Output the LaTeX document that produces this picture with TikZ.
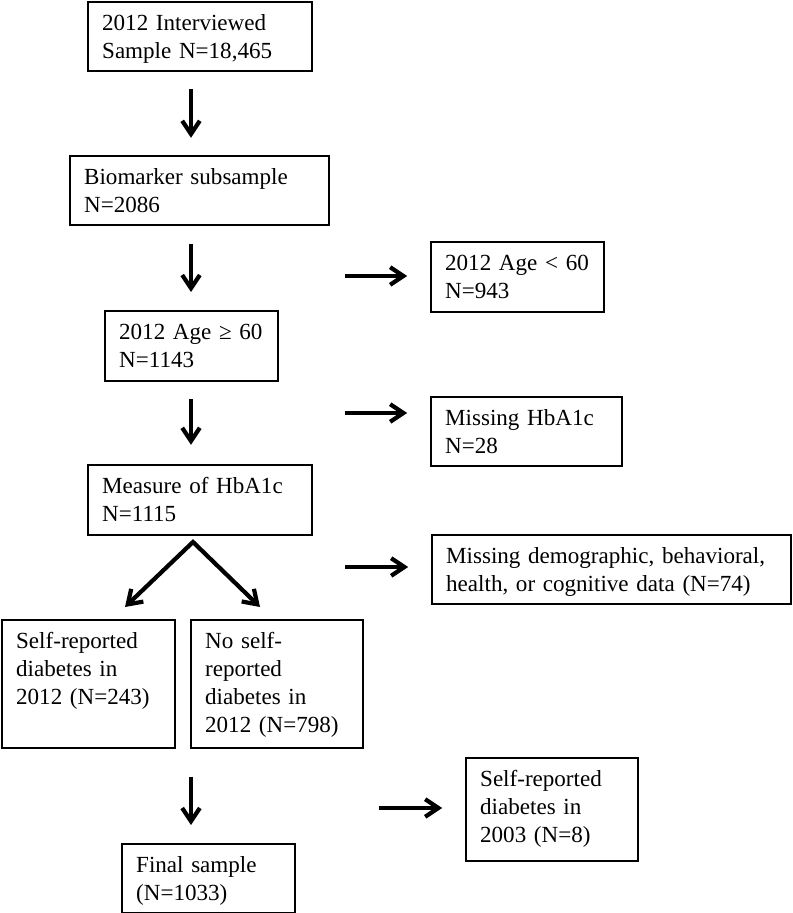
\documentclass[tikz,border=0pt]{standalone}
\usepackage{fontspec}
\setmainfont{Liberation Serif}
\usepackage{tikz}
\usetikzlibrary{arrows.meta}
\tikzset{every edge/.style={draw}}
\newcommand{\flowfont}{\fontsize{16.4}{19.9}\selectfont}

\begin{document}
\begin{tikzpicture}[x=0.025cm, y=-0.025cm, >={Straight Barb[length=3.3mm,width=4.4mm]},
  box/.style={draw, line width=1.1pt, anchor=north west, align=left, inner xsep=0.36cm, inner ysep=0.2cm, text height=0.52cm, font=\flowfont},
  flow/.style={draw, line width=3pt, ->}]
  \useasboundingbox (0, 0) rectangle (793, 913);

  % main column
  \node[box, text width=4.88cm, text depth=0.805cm] at (87, 1) (interv) {2012 Interviewed\\Sample N=18,465};
  \node[box, text width=5.755cm, text depth=0.805cm] at (69, 155) (biom) {Biomarker subsample\\N=2086};
  \node[box, text width=3.605cm, text depth=0.83cm] at (104, 310) (old) {2012 Age ≥ 60\\N=1143};
  \node[box, text width=4.88cm, text depth=0.83cm] at (87, 464) (hba) {Measure of HbA1c\\N=1115};
  \node[box, text width=3.605cm, text depth=2.28cm] at (1, 619) (selfrep) {Self-reported\\diabetes in\\2012 (N=243)};
  \node[box, text width=3.58cm, text depth=2.28cm] at (190, 619) (noself) {No self-\\reported\\diabetes in\\2012 (N=798)};
  \node[box, text width=3.605cm, text depth=0.805cm] at (121, 843) (final) {Final sample\\(N=1033)};

  % exclusions
  \node[box, text width=3.605cm, text depth=0.83cm] at (430, 241) (young) {2012 Age < 60\\N=943};
  \node[box, text width=4.055cm, text depth=0.805cm] at (430, 396) (nohba) {Missing HbA1c\\N=28};
  \node[box, text width=8.255cm, text depth=0.805cm] at (431, 534) (missing) {Missing demographic, behavioral,\\health, or cognitive data (N=74)};
  \node[box, text width=3.58cm, text depth=1.655cm] at (465, 757) (early) {Self-reported\\diabetes in\\2003 (N=8)};

  \coordinate (col) at (191, 0);
  \coordinate (split) at (193, 542);
  \coordinate (tl) at (125, 607);
  \coordinate (tr) at (260, 607);
  \coordinate (r1) at (345, 276);
  \coordinate (r2) at (345, 413);
  \coordinate (r3) at (345, 567);
  \coordinate (r4) at (379, 808);

  \draw (interv.south -| col) edge[flow, shorten <=0.43cm, shorten >=0.43cm] (biom.north -| col);
  \draw (biom.south -| col) edge[flow, shorten <=0.45cm, shorten >=0.45cm] (old.north -| col);
  \draw (old.south -| col) edge[flow, shorten <=0.43cm, shorten >=0.48cm] (hba.north -| col);
  \draw[flow, <->] (tl) -- (split) -- (tr);
  \draw (noself.south -| col) edge[flow, shorten <=0.7cm, shorten >=0.45cm] (final.north -| col);

  \draw (r1) edge[flow, shorten >=0.57cm] (young.west |- r1);
  \draw (r2) edge[flow, shorten >=0.57cm] (nohba.west |- r2);
  \draw (r3) edge[flow, shorten >=0.57cm] (missing.west |- r3);
  \draw (r4) edge[flow, shorten >=0.57cm] (early.west |- r4);
\end{tikzpicture}
\end{document}
